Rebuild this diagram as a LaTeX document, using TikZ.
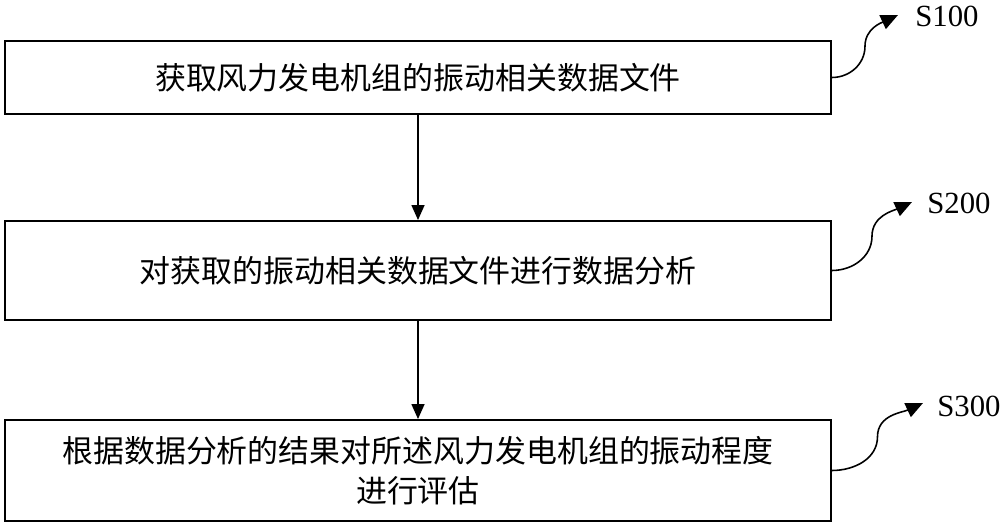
\documentclass[tikz,border=0pt]{standalone}
\usepackage{fontspec}
\setmainfont{Liberation Serif}
\newfontfamily\cjk{Noto Sans CJK SC}
\usetikzlibrary{positioning, arrows.meta, calc}

\begin{document}
\begin{tikzpicture}[
    every node/.style={align=center},
    stepbox/.style={
        rectangle, draw=black, line width=1.1pt,
        minimum width=16.52cm, inner sep=3pt,
        font=\cjk\fontsize{17.6pt}{22.8pt}\selectfont
    },
    arrow/.style={-{Triangle[length=0.3cm, width=0.26cm]}, line width=0.9pt},
    curl/.style={-{Triangle[length=0.34cm, width=0.3cm]}, line width=0.9pt},
    steplabel/.style={anchor=west, font=\fontsize{17.5pt}{20pt}\selectfont, inner sep=0pt},
]
\useasboundingbox (0,0) rectangle (20,-10.52);

% === STEP BOXES ===
\node[stepbox, minimum height=1.46cm] (step1) at (8.36,-1.55)
    {获取风力发电机组的振动相关数据文件};

\node[stepbox, minimum height=1.98cm] (step2) at (8.36,-5.41)
    {对获取的振动相关数据文件进行数据分析};

\node[stepbox, minimum height=2.02cm] (step3) at (8.36,-9.41)
    {根据数据分析的结果对所述风力发电机组的振动程度\\进行评估};

% === FLOW ARROWS ===
\draw[arrow] (step1) -- (step2);
\draw[arrow] (step2) -- (step3);

% === STEP LABELS ===
\coordinate (tip1) at (17.96,-0.30);
\coordinate (tip2) at (18.24,-4.04);
\coordinate (tip3) at (18.46,-8.06);

\node[steplabel] (s100) at (18.30,-0.32) {S100};
\node[steplabel] (s200) at (18.54,-4.06) {S200};
\node[steplabel] (s300) at (18.74,-8.12) {S300};

% box -> label (curly leaders)
\draw[curl] (step1.east) to[out=0, in=-90] ($(step1.east)!0.5!(tip1)$)
    to[out=90, in=205] (tip1);
\draw[curl] (step2.east) to[out=0, in=-90] ($(step2.east)!0.5!(tip2)$)
    to[out=90, in=205] (tip2);
\draw[curl] (step3.east) to[out=0, in=-90] ($(step3.east)!0.5!(tip3)$)
    to[out=90, in=205] (tip3);
\end{tikzpicture}
\end{document}
